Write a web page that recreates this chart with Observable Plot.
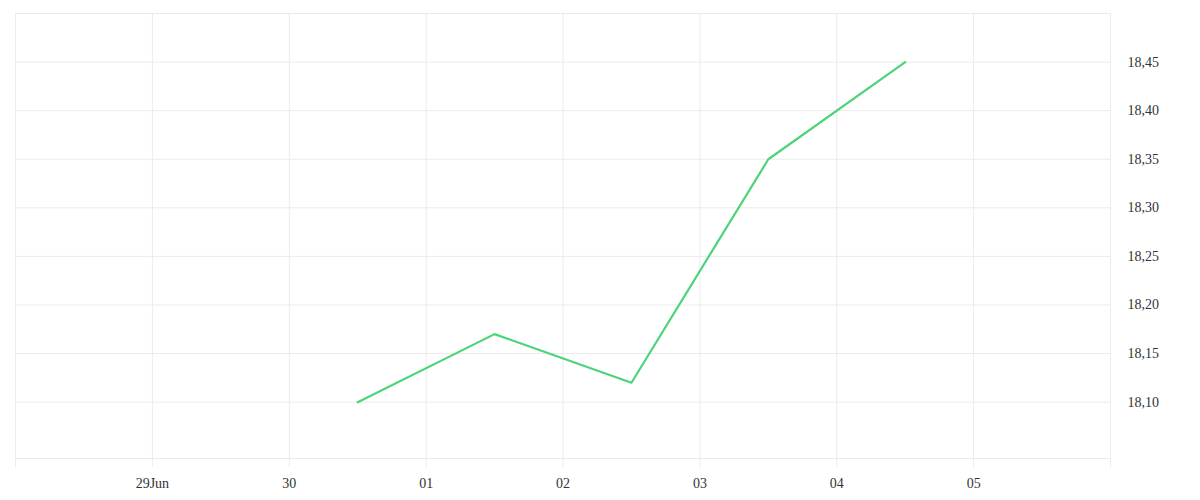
<!DOCTYPE html>
<html>
<head>
<meta charset="utf-8">
<script src="https://cdn.jsdelivr.net/npm/d3@7"></script>
<script src="https://cdn.jsdelivr.net/npm/@observablehq/plot@0.6"></script>
<style>
  html, body { margin: 0; padding: 0; background: #fff; }
  #chart svg { display: block; }
</style>
</head>
<body>
<div id="chart"></div>
<script>
// Data
const dates = ["2023-06-30T12:00Z", "2023-07-01T12:00Z", "2023-07-02T12:00Z", "2023-07-03T12:00Z", "2023-07-04T12:00Z"];
const values = [18.10, 18.17, 18.12, 18.35, 18.45];
const xTicks = ["2023-06-28", "2023-06-29", "2023-06-30", "2023-07-01", "2023-07-02", "2023-07-03", "2023-07-04", "2023-07-05", "2023-07-06"];
const xTickLabels = ["", "29Jun", "30", "01", "02", "03", "04", "05", ""];
const yTicks = [18.10, 18.15, 18.20, 18.25, 18.30, 18.35, 18.40, 18.45];
const yGrid = [18.10, 18.15, 18.20, 18.25, 18.30, 18.35, 18.40, 18.45, 18.50];

const data = dates.map((d, i) => ({date: new Date(d), value: values[i]}));
const xTickDates = xTicks.map(d => new Date(d + "T00:00Z"));
const labelOf = new Map(xTickDates.map((d, i) => [+d, xTickLabels[i]]));

const yMin = 18.042, yMax = 18.50;

const chart = Plot.plot({
  width: 1200,
  height: 500,
  marginLeft: 15,
  marginRight: 90,
  marginTop: 13,
  marginBottom: 42,
  style: {fontFamily: "'Liberation Serif', serif", fontSize: "14px", color: "#333", background: "#fff"},
  x: {type: "utc", domain: [xTickDates[0], xTickDates[xTickDates.length - 1]]},
  y: {domain: [yMin, yMax]},
  marks: [
    Plot.ruleY(yGrid, {stroke: "#ebebeb", strokeWidth: 1}),
    Plot.ruleY([yMin], {stroke: "#ebebeb", strokeWidth: 1}),
    Plot.ruleX(xTickDates, {y1: yMin, y2: yMax, stroke: "#ebebeb", strokeWidth: 1}),
    Plot.axisX({
      ticks: xTickDates,
      tickFormat: d => labelOf.get(+d) ?? "",
      tickSize: 9,
      tickPadding: 11,
      stroke: "#ebebeb",
      strokeOpacity: 1,
      fill: "#333",
      label: null
    }),
    Plot.axisY({
      anchor: "right",
      ticks: yTicks,
      tickFormat: d => d.toFixed(2).replace(".", ","),
      tickSize: 0,
      tickPadding: 17,
      fill: "#333",
      label: null
    }),
    Plot.line(data, {x: "date", y: "value", stroke: "#4cd47a", strokeWidth: 2.2})
  ]
});
document.getElementById("chart").appendChild(chart);
</script>
</body>
</html>
